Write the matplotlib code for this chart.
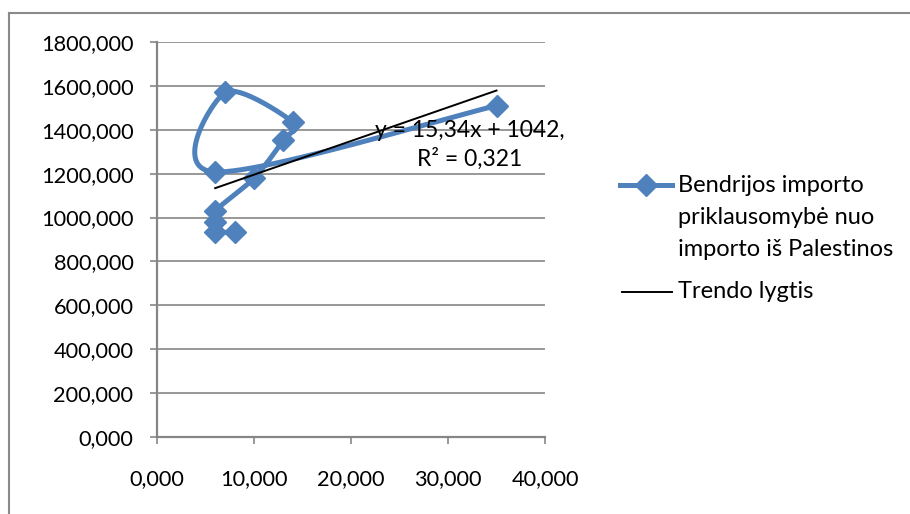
import numpy as np
import matplotlib
matplotlib.use("Agg")
import matplotlib.pyplot as plt
from matplotlib.lines import Line2D

plt.rcParams['font.family'] = ['Lato', 'DejaVu Sans']

# Data
x_vals = [8, 6, 6, 6, 10, 13, 14, 7, 6, 35]
y_vals = [935, 935, 980, 1030, 1180, 1352, 1435, 1570, 1208, 1510]
trend_slope = 15.34
trend_intercept = 1042
trend_x = [6, 35]
x_ticks = [0, 10, 20, 30, 40]
y_ticks = [0, 200, 400, 600, 800, 1000, 1200, 1400, 1600, 1800]
series_label = "Bendrijos importo\npriklausomybė nuo\nimporto iš Palestinos"
trend_label = "Trendo lygtis"
eq_text = "y = 15,34x + 1042,\nR² = 0,321"

W, H = 910, 514
fig = plt.figure(figsize=(W / 100, H / 100), dpi=100)
L, R, T, B = 157, 545, 42, 437
ax = fig.add_axes([L / W, 1 - B / H, (R - L) / W, (B - T) / H])
ax.set_xlim(0, 40)
ax.set_ylim(0, 1800)

blue = '#4F81BD'
grid = '#868686'
FS = 15.7
FS_LEG = 17

def fmt(v):
    return f"{v:.3f}".replace('.', ',')

ax.set_xticks(x_ticks)
ax.set_xticklabels([fmt(v) for v in x_ticks])
ax.set_yticks(y_ticks)
ax.set_yticklabels([fmt(v) for v in y_ticks])
ax.tick_params(axis='both', labelsize=FS, colors=grid, labelcolor='black', length=5, width=1.2)
ax.tick_params(axis='y', pad=12)
ax.tick_params(axis='x', pad=18)
ax.yaxis.grid(True, color=grid, linewidth=1.2)
ax.set_axisbelow(True)
for s in ['top', 'right']:
    ax.spines[s].set_visible(False)
for s in ['left', 'bottom']:
    ax.spines[s].set_color(grid)
    ax.spines[s].set_linewidth(1.6)

# Excel-like smoothed line (Catmull-Rom in display space)
fig.canvas.draw()
pts = ax.transData.transform(np.column_stack([x_vals, y_vals]))
n = len(pts)
curve = []
for i in range(n - 1):
    p0 = pts[i - 1] if i > 0 else pts[i]
    p1 = pts[i]
    p2 = pts[i + 1]
    p3 = pts[i + 2] if i + 2 < n else pts[i + 1]
    c1 = p1 + (p2 - p0) / 6.0
    c2 = p2 - (p3 - p1) / 6.0
    t = np.linspace(0, 1, 60)[:, None]
    seg = ((1 - t) ** 3) * p1 + 3 * ((1 - t) ** 2) * t * c1 + 3 * (1 - t) * t ** 2 * c2 + t ** 3 * p2
    curve.append(seg if i == 0 else seg[1:])
curve = np.vstack(curve)
curve_data = ax.transData.inverted().transform(curve)
ax.plot(curve_data[:, 0], curve_data[:, 1], color=blue, linewidth=3.6,
        solid_capstyle='round', solid_joinstyle='round', zorder=3, clip_on=False)
ax.plot(x_vals, y_vals, linestyle='none', marker='D', markersize=11,
        color=blue, markeredgecolor=blue, zorder=4, clip_on=False)

# Trend line
tx = np.array(trend_x, dtype=float)
ax.plot(tx, trend_slope * tx + trend_intercept, color='black', linewidth=1.4, zorder=5)

fig.text(470 / W, 1 - 145 / H, eq_text, ha='center', va='center', fontsize=16.5,
         linespacing=1.4, zorder=6)

# Legend (manual)
ly1 = 1 - 185 / H
fig.add_artist(Line2D([620 / W, 672 / W], [ly1, ly1], color=blue, linewidth=3.6,
                      transform=fig.transFigure))
fig.add_artist(Line2D([646 / W], [ly1], marker='D', markersize=11, color=blue,
                      transform=fig.transFigure))
fig.text(678 / W, 1 - 185 / H, series_label, ha='left', va='baseline', fontsize=FS_LEG,
         linespacing=1.55, transform=fig.transFigure) if False else None
lines = series_label.split('\n')
for k, line in enumerate(lines):
    fig.text(678 / W, 1 - (185 + 32.5 * k) / H, line, ha='left', va='center',
             fontsize=FS_LEG)
ly2 = 1 - 292 / H
fig.add_artist(Line2D([622 / W, 672 / W], [ly2, ly2], color='black', linewidth=1.4,
                      transform=fig.transFigure))
fig.text(678 / W, ly2, trend_label, ha='left', va='center', fontsize=FS_LEG)

# Chart area border (top and left visible)
fig.add_artist(Line2D([9 / W, 1.0], [1 - 12.5 / H, 1 - 12.5 / H], color='#8a8a8a',
                      linewidth=1.5, transform=fig.transFigure))
fig.add_artist(Line2D([9 / W, 9 / W], [1 - 12.5 / H, 0], color='#8a8a8a',
                      linewidth=1.5, transform=fig.transFigure))

fig.savefig('out.png', dpi=100)
